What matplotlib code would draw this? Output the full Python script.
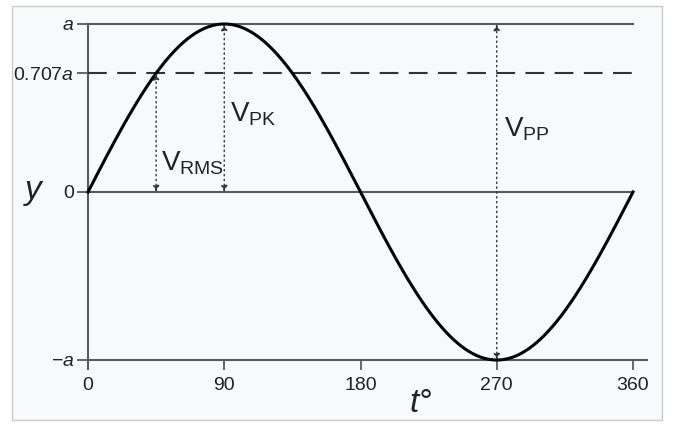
import numpy as np
import matplotlib.pyplot as plt
from matplotlib.patches import Rectangle

# chart values
x_ticks = [0, 90, 180, 270, 360]
y_ticks = [-1.0, 0.0, 0.707, 1.0]
y_labels = ['$-a$', '0', '0.707$a$', '$a$']
amplitude = 1.0
rms_level = 0.707
rms_x = 45
pk_x = 90
pp_x = 270

t = np.linspace(0, 360, 721)
y = amplitude * np.sin(np.radians(t))

plt.rcParams['font.family'] = ['Liberation Sans', 'DejaVu Sans']
plt.rcParams['mathtext.fontset'] = 'custom'
plt.rcParams['mathtext.rm'] = 'Liberation Sans'
plt.rcParams['mathtext.it'] = 'Liberation Sans:italic'

W, H = 675, 426
fig = plt.figure(figsize=(W / 100, H / 100), dpi=100)
fig.patch.set_facecolor('#ffffff')
fig.patches.append(Rectangle((12 / W, 6 / H), 650 / W, 414 / H, transform=fig.transFigure,
                             facecolor='#f8f9fa', edgecolor='#c8ccd1', linewidth=1.0,
                             zorder=-10))

ax = fig.add_axes([88 / W, (H - 360) / H, 545 / W, 336 / H])
ax.set_facecolor('none')
ax.set_xlim(0, 360)
ax.set_ylim(-1, 1)
for s in ax.spines.values():
    s.set_visible(False)

axis_col = '#5a5a5a'
txt_col = '#222222'

# axis lines
ax.plot([0, 370], [-1, -1], color=axis_col, lw=1.5, clip_on=False, solid_capstyle='butt')
ax.plot([0, 0], [-1.06, 1], color=axis_col, lw=1.5, clip_on=False, solid_capstyle='butt')
ax.plot([0, 360], [1, 1], color=axis_col, lw=1.5, clip_on=False)
ax.plot([0, 360], [0, 0], color=axis_col, lw=1.5, clip_on=False)
ax.plot([0, 360], [rms_level, rms_level], color='#333333', lw=1.5, dashes=(9, 5), clip_on=False)

# ticks
ax.set_xticks(x_ticks)
ax.set_yticks(y_ticks)
ax.set_yticklabels(y_labels)
ax.tick_params(axis='x', direction='out', length=7, width=1.3, color=axis_col, pad=5,
               labelsize=14, labelcolor=txt_col)
ax.tick_params(axis='y', direction='out', length=8, width=1.3, color=axis_col, pad=2,
               labelsize=14, labelcolor=txt_col)

# sine curve
ax.plot(t, y, color='black', lw=2.2, clip_on=False)

# dotted arrows
arrow_kw = dict(arrowstyle='<|-|>', color='#333333', lw=1.0, linestyle=(0, (1, 2.5)),
                mutation_scale=9, shrinkA=0, shrinkB=0)
ax.annotate('', xy=(rms_x, rms_level), xytext=(rms_x, 0), arrowprops=arrow_kw)
ax.annotate('', xy=(pk_x, amplitude), xytext=(pk_x, 0), arrowprops=arrow_kw)
ax.annotate('', xy=(pp_x, amplitude), xytext=(pp_x, -amplitude), arrowprops=arrow_kw)

# labels
lab_kw = dict(color=txt_col, fontsize=20, va='baseline')
ax.text(48, 0.13, r'V$_{\mathregular{RMS}}$', **lab_kw)
ax.text(94, 0.42, r'V$_{\mathregular{PK}}$', **lab_kw)
ax.text(275, 0.33, r'V$_{\mathregular{PP}}$', **lab_kw)

fig.text(33 / W, 1 - 191 / H, 'y', fontsize=24, style='italic', color=txt_col,
         ha='center', va='center')
fig.text(421 / W, 1 - 403 / H, 't°', fontsize=24, style='italic', color=txt_col,
         ha='center', va='center')

fig.savefig('out.png', dpi=100, facecolor=fig.get_facecolor())
